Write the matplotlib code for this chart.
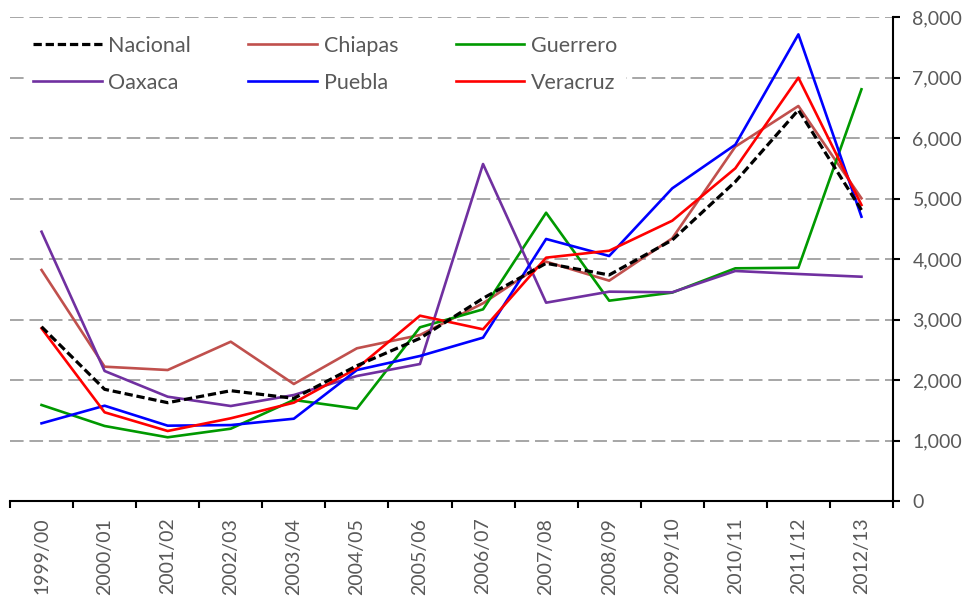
import matplotlib
matplotlib.use('Agg')
import matplotlib.pyplot as plt
from matplotlib.ticker import FuncFormatter

# ciclos escolares
ciclos = ['1999/00', '2000/01', '2001/02', '2002/03', '2003/04', '2004/05', '2005/06',
          '2006/07', '2007/08', '2008/09', '2009/10', '2010/11', '2011/12', '2012/13']

nacional = [2880, 1846, 1625, 1823, 1697, 2236, 2689, 3350, 3929, 3736, 4314, 5278, 6463, 4810]
chiapas  = [3818, 2220, 2165, 2633, 1934, 2524, 2744, 3268, 3956, 3642, 4342, 5857, 6529, 5003]
guerrero = [1587, 1240, 1053, 1195, 1670, 1526, 2871, 3168, 4765, 3311, 3445, 3846, 3856, 6805]
oaxaca   = [4451, 2149, 1724, 1570, 1752, 2066, 2264, 5570, 3278, 3460, 3450, 3802, 3752, 3707]
puebla   = [1284, 1575, 1245, 1255, 1360, 2165, 2397, 2700, 4331, 4050, 5168, 5889, 7713, 4699]
veracruz = [2854, 1466, 1157, 1367, 1625, 2193, 3063, 2838, 4022, 4137, 4633, 5499, 6997, 4893]

gris = '#595959'
plt.rcParams['font.family'] = ['Lato', 'DejaVu Sans']

fig = plt.figure(figsize=(9.75, 6.05), dpi=100)
ax = fig.add_axes([10/975, 104/605, 883/975, 484/605])

x = list(range(len(ciclos)))
# estados
ax.plot(x, chiapas, color='#C0504D', lw=1.9, label='Chiapas', zorder=3)
ax.plot(x, guerrero, color='#009900', lw=1.9, label='Guerrero', zorder=3)
ax.plot(x, oaxaca, color='#7030A0', lw=1.9, label='Oaxaca', zorder=3)
ax.plot(x, puebla, color='#0000FF', lw=1.9, label='Puebla', zorder=3)
ax.plot(x, veracruz, color='#FF0000', lw=1.9, label='Veracruz', zorder=3)
ax.plot(x, nacional, color='black', lw=2.3, ls=(0, (2.6, 1.2)), label='Nacional', zorder=4)

ax.set_xlim(-0.5, len(ciclos) - 0.5)
ax.set_ylim(0, 8000)

# ejes
for s in ['top', 'left']:
    ax.spines[s].set_visible(False)
ax.spines['right'].set_linewidth(1.5)
ax.spines['bottom'].set_linewidth(1.5)

ax.yaxis.tick_right()
ax.set_yticks(range(0, 8001, 1000))
ax.yaxis.set_major_formatter(FuncFormatter(lambda v, p: f'{int(v):,}'))
ax.tick_params(axis='y', length=5, width=1.5, pad=9, labelsize=14, labelcolor=gris)
ax.grid(axis='y', color='#A6A6A6', lw=1.4, ls=(0, (7, 3)), zorder=1)

ax.set_xticks(x)
ax.set_xticklabels(ciclos, rotation=90)
ax.set_xticks([i - 0.5 for i in range(len(ciclos) + 1)], minor=True)
ax.tick_params(axis='x', which='major', length=0, pad=12, labelsize=14, labelcolor=gris)
ax.tick_params(axis='x', which='minor', length=5, width=1.5)

# leyenda: 3 columnas, se llena por columnas -> orden para leer por filas
h, l = ax.get_legend_handles_labels()
orden = ['Nacional', 'Oaxaca', 'Chiapas', 'Puebla', 'Guerrero', 'Veracruz']
hh = [h[l.index(n)] for n in orden]
leg = ax.legend(hh, orden, ncol=3, loc='upper left', bbox_to_anchor=(24/975, 1 - 27/605),
                bbox_transform=fig.transFigure, fontsize=15.5, frameon=True,
                handlelength=3.2, handletextpad=0.32, columnspacing=2.65,
                labelspacing=0.8, borderpad=0.4, borderaxespad=0)
leg.get_frame().set_facecolor('white')
leg.get_frame().set_edgecolor('none')
leg.get_frame().set_alpha(1)
leg.set_zorder(5)
for t in leg.get_texts():
    t.set_color(gris)

fig.savefig('out.png', dpi=100)
